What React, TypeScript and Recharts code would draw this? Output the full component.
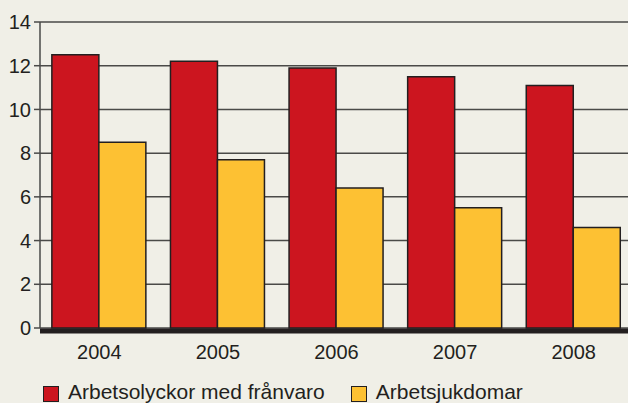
// Arbetsolyckor med frånvaro and arbetsjukdomar per 1000 sysselsatta, 2004–2008.
// Grouped bars on a beige panel; the legend sits below the chart as plain HTML.

import { Bar, BarChart, CartesianGrid, XAxis, YAxis } from "recharts";

const years = ["2004", "2005", "2006", "2007", "2008"];
const accidents = [12.5, 12.2, 11.9, 11.5, 11.1];
const diseases = [8.5, 7.7, 6.4, 5.5, 4.6];
const yTicks = [0, 2, 4, 6, 8, 10, 12, 14];

const data = years.map((year, i) => ({
  year,
  accidents: accidents[i],
  diseases: diseases[i],
}));

const ink = "#231f20";
const grid = "#4a4a48";
const red = "#cc151f";
const yellow = "#fdc133";
const font = "'Liberation Sans', Arial, sans-serif";

const tick = { fontSize: 20, fill: ink, fontFamily: font };

function LegendItem({ color, label }: { color: string; label: string }) {
  return (
    <span style={{ display: "inline-flex", alignItems: "flex-start" }}>
      <span
        style={{
          width: 14,
          height: 14,
          marginTop: 6,
          background: color,
          border: `1.5px solid ${ink}`,
          marginRight: 9,
        }}
      />
      <span>{label}</span>
    </span>
  );
}

export default function App() {
  return (
    <div
      style={{
        position: "fixed",
        left: 0,
        top: 0,
        width: 628,
        height: 403,
        overflow: "hidden",
        background: "#f0efe7",
      }}
    >
      <BarChart
        width={640}
        height={403}
        data={data}
        margin={{ top: 22, right: 7, left: 0, bottom: 0 }}
        barCategoryGap="10%"
        barGap={0}
      >
        <CartesianGrid vertical={false} stroke={grid} strokeWidth={1.5} />
        <XAxis
          dataKey="year"
          height={75}
          tickLine={false}
          tickMargin={11}
          tick={tick}
          axisLine={{ stroke: ink, strokeWidth: 5, transform: "translate(0,3)" }}
        />
        <YAxis
          width={40}
          domain={[0, 14]}
          ticks={yTicks}
          interval={0}
          tickMargin={3}
          tick={tick}
          tickLine={{ stroke: grid, strokeWidth: 1.5 }}
          axisLine={{ stroke: grid, strokeWidth: 1.5 }}
        />
        <Bar
          dataKey="accidents"
          fill={red}
          stroke={ink}
          strokeWidth={1.5}
          isAnimationActive={false}
        />
        <Bar
          dataKey="diseases"
          fill={yellow}
          stroke={ink}
          strokeWidth={1.5}
          isAnimationActive={false}
        />
      </BarChart>
      <div
        style={{
          position: "absolute",
          left: 43,
          top: 380,
          display: "flex",
          gap: 26,
          fontFamily: font,
          fontSize: 21,
          color: ink,
          lineHeight: "24px",
          whiteSpace: "nowrap",
        }}
      >
        <LegendItem color={red} label="Arbetsolyckor med frånvaro" />
        <LegendItem color={yellow} label="Arbetsjukdomar" />
      </div>
    </div>
  );
}
